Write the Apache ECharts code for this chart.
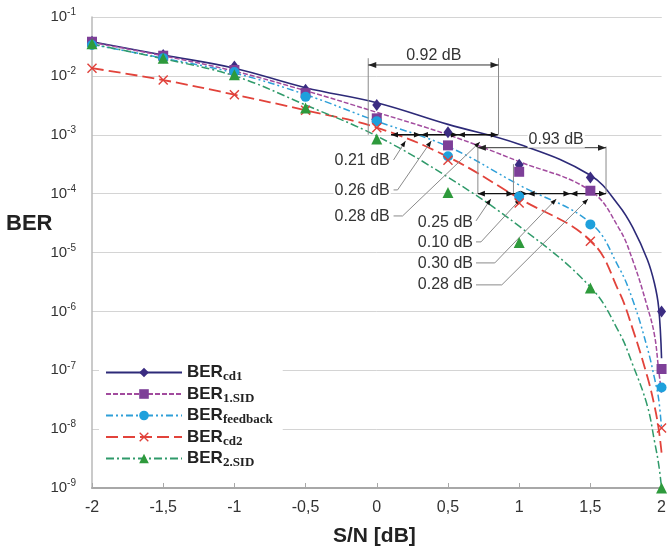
<!DOCTYPE html>
<html><head><meta charset="utf-8">
<script src="https://cdn.jsdelivr.net/npm/echarts@6/dist/echarts.min.js"></script>
<style>html,body{margin:0;padding:0;background:#fff}#c{width:669px;height:550px}</style>
</head><body><div id="c"></div>
<script>
// ---- data ----
const xTickLabels = ['-2','-1,5','-1','-0,5','0','0,5','1','1,5','2'];
const seriesNames = ['cd1', '1.SID', 'feedback', 'cd2', '2.SID'];
// simulated points (markers)
const markerX = [-2, -1.5, -1, -0.5, 0, 0.5, 1, 1.5, 2];
const ptsCd1      = [0.038, 0.0226, 0.0144, 0.0058, 0.0032, 0.0011, 0.00031, 0.000187, 1.0e-6];
const pts1SID     = [0.038, 0.022, 0.0126, 0.0051, 0.0019, 0.00066, 0.000235, 0.000112, 1.05e-7];
const ptsFeedback = [0.0335, 0.020, 0.0116, 0.0044, 0.0017, 0.00043, 0.000089, 0.00003, 5.1e-8];
const ptsCd2      = [0.0135, 0.0085, 0.0048, 0.0026, 0.00131, 0.00037, 0.000069, 0.0000155, 1.05e-8];
const pts2SID     = [0.035, 0.020, 0.0104, 0.00285, 0.00085, 0.000105, 0.0000148, 2.5e-6, 1e-9];
// fitted curves
const curveX        = [-2, -1.5, -1, -0.5, 0, 0.5, 1, 1.5, 1.7, 1.8, 1.9, 1.95, 1.98, 2];
const curveCd1      = [0.038, 0.0226, 0.0135, 0.0063, 0.0035, 0.0015, 6.9e-4, 2.05e-4, 6.3e-5, 2.6e-5, 7.6e-6, 3.0e-6, 1.15e-6, 1.6e-7];
const curve1SID     = [0.037, 0.0219, 0.012, 0.0056, 0.0024, 0.001, 3.5e-4, 1.12e-4, 2.6e-5, 7.1e-6, 1.2e-6, 4.0e-7, 1.0e-7, 4e-8];
const curveFeedback = [0.034, 0.020, 0.0112, 0.0048, 0.0017, 6.3e-4, 1.4e-4, 3.2e-5, 5.6e-6, 1.5e-6, 2.4e-7, 7.4e-8, 3.2e-8, 1e-8];
const curveCd2      = [0.0135, 0.0085, 0.0048, 0.0026, 0.00132, 4.2e-4, 8.3e-5, 1.6e-5, 2.2e-6, 4.8e-7, 7.8e-8, 2.5e-8, 1e-8, 4e-9];
const curve2SID     = [0.0347, 0.0195, 0.01, 0.0032, 9.5e-4, 1.9e-4, 2.8e-5, 2.6e-6, 4.5e-7, 1.2e-7, 2.5e-8, 6.3e-9, 2.5e-9, 1e-9];
// annotations (data coordinates: S/N in dB, BER)
const dimTexts = ['0.92 dB', '0.93 dB'];
const dimX1 = [-0.06, 0.71];
const dimX2 = [0.855, 1.61];
const dimY = [Math.pow(10, -1.815), Math.pow(10, -3.22)];
const dimTextX = [0.40, 1.26];
const dimTextY = [Math.pow(10, -1.66), Math.pow(10, -3.085)];
const extX = [-0.06, 0.855, 0.71, 1.61, 0.96];
const extYFrom = [1e-3, 1e-3, 1e-4, 1e-4, 1e-4];
const extYTo = [Math.pow(10, -1.70), Math.pow(10, -1.70), Math.pow(10, -3.20), Math.pow(10, -3.20), Math.pow(10, -3.50)];
const chainY = [1e-3, 1e-4];
const chainBounds = [[0.10, 0.31, 0.57, 0.85], [0.71, 0.96, 1.06, 1.36, 1.61]];
const segTexts = [['0.21 dB', '0.26 dB', '0.28 dB'], ['0.25 dB', '0.10 dB', '0.30 dB', '0.28 dB']];
const segTextRightX = [0.098, 0.683];
const segTextY = [[Math.pow(10,-3.445), Math.pow(10,-3.946), Math.pow(10,-4.387)],
                  [Math.pow(10,-4.497), Math.pow(10,-4.832), Math.pow(10,-5.182), Math.pow(10,-5.55)]];
const leaderPts = [
  [[[0.118, -3.428], [0.202, -3.105]],
   [[0.118, -3.937], [0.146, -3.937], [0.383, -3.105]],
   [[0.118, -4.379], [0.181, -4.379], [0.725, -3.122]]],
  [[[0.697, -4.463], [0.801, -4.09]],
   [[0.697, -4.82], [0.732, -4.82], [1.010, -4.09]],
   [[0.697, -5.177], [0.829, -5.177], [1.261, -4.09]],
   [[0.697, -5.55], [0.878, -5.55], [1.484, -4.09]]]
];

// ---- styles ----
const X_SHAPE = 'path://M0,1L1,0L5,4L9,0L10,1L6,5L10,9L9,10L5,6L1,10L0,9L4,5Z';
const styles = [
  {line:'#2D2A78', mark:'#3B2C82', dash:'solid', width:1.6, symbol:'diamond', size:[9,12]},
  {line:'#A24B9E', mark:'#7D3F98', dash:[5,2], width:1.5, symbol:'rect', size:10},
  {line:'#2E9FD8', mark:'#1EA0DC', dash:[7,3,2,3,2,3], width:1.5, symbol:'circle', size:10},
  {line:'#E2433B', mark:'#E0403A', dash:[12,5], width:1.8, symbol:X_SHAPE, size:10},
  {line:'#2F9A6A', mark:'#2E9A3C', dash:[8,3,2,3], width:1.5, symbol:'triangle', size:11}
];
const curves = [curveCd1, curve1SID, curveFeedback, curveCd2, curve2SID];
const points = [ptsCd1, pts1SID, ptsFeedback, ptsCd2, pts2SID];

const series = [];
seriesNames.forEach((n, i) => {
  const st = styles[i];
  series.push({
    name: n, type: 'line', z: 2,
    data: curveX.map((x, k) => [x, curves[i][k]]),
    smooth: 0.4, showSymbol: false,
    symbol: st.symbol, symbolSize: st.size,
    itemStyle: {color: st.mark},
    lineStyle: {color: st.line, width: st.width, type: st.dash},
    clip: false, silent: true
  });
});
seriesNames.forEach((n, i) => {
  const st = styles[i];
  series.push({
    name: 'pts_' + n, type: 'scatter', z: 5,
    data: markerX.map((x, k) => [x, points[i][k]]),
    symbol: st.symbol, symbolSize: st.size,
    itemStyle: {color: st.mark, opacity: 1},
    clip: false, silent: true
  });
});

function renderAnno(params, api) {
  const ch = [];
  const P = (x, y) => api.coord([x, y]);
  const line = (pts, color, w) => ch.push({type:'polyline', shape:{points: pts}, style:{stroke: color, lineWidth: w, fill: null}});
  const arrow = (tip, from, len, hw, color) => {
    const dx = tip[0]-from[0], dy = tip[1]-from[1];
    const d = Math.hypot(dx, dy) || 1; const ux = dx/d, uy = dy/d;
    const bx = tip[0]-ux*len, by = tip[1]-uy*len;
    ch.push({type:'polygon', shape:{points:[tip, [bx-uy*hw, by+ux*hw], [bx+uy*hw, by-ux*hw]]}, style:{fill: color}});
  };
  const text = (s, x, y, align) => ch.push({type:'text', style:{text: s, x: x, y: y, align: align, verticalAlign:'middle',
      font: '16px "Liberation Sans", Arial, sans-serif', fill: '#333', backgroundColor: '#fff', padding: [0, 1, 0, 1]}});
  extX.forEach((x, i) => line([P(x, extYFrom[i]), P(x, extYTo[i])], '#8a8a8a', 1));
  dimTexts.forEach((t, i) => {
    const a = P(dimX1[i], dimY[i]), b = P(dimX2[i], dimY[i]);
    line([a, b], '#333', 1);
    arrow(a, b, 8, 3, '#222'); arrow(b, a, 8, 3, '#222');
    const tp = P(dimTextX[i], dimTextY[i]);
    text(t, tp[0], tp[1], 'center');
  });
  chainBounds.forEach((bs, j) => {
    const y = chainY[j];
    line([P(bs[0], y), P(bs[bs.length-1], y)], '#111', 1.3);
    for (let k = 0; k < bs.length-1; k++) {
      const a = P(bs[k], y), b = P(bs[k+1], y);
      arrow(a, b, 7, 2.8, '#111'); arrow(b, a, 7, 2.8, '#111');
    }
  });
  leaderPts.forEach(group => group.forEach(pl => {
    const pts = pl.map(p => P(p[0], Math.pow(10, p[1])));
    line(pts, '#8a8a8a', 1);
    arrow(pts[pts.length-1], pts[pts.length-2], 6, 2.3, '#111');
  }));
  segTexts.forEach((ts, j) => ts.forEach((t, k) => {
    const p = P(segTextRightX[j], segTextY[j][k]);
    text(t, p[0], p[1], 'right');
  }));
  return {type:'group', children: ch};
}
series.push({type:'custom', name:'anno', z: 4, coordinateSystem:'cartesian2d', data:[[0, 1e-3]], renderItem: renderAnno, clip:false, silent:true});

const chart = echarts.init(document.getElementById('c'));
chart.setOption({
  animation: false,
  backgroundColor: '#fff',
  grid: {left: 92, right: 4, top: 17, bottom: 62, containLabel: false},
  xAxis: {
    type: 'value', min: -2, max: 2, interval: 0.5,
    axisLine: {onZero: false, lineStyle: {color: '#a8a8a8', width: 2}},
    axisTick: {inside: true, length: 5, lineStyle: {color: '#a8a8a8'}},
    splitLine: {show: false},
    axisLabel: {margin: 12, color: '#333', fontSize: 16, fontFamily: 'Liberation Sans',
      formatter: v => xTickLabels[Math.round((v + 2) / 0.5)]}
  },
  yAxis: {
    type: 'log', logBase: 10, min: 1e-9, max: 1e-1, splitNumber: 8,
    axisLine: {show: true, onZero: false, lineStyle: {color: '#b8b8b8', width: 1.5}},
    axisTick: {show: false},
    splitLine: {show: true, lineStyle: {color: '#d4d4d4', width: 1}},
    axisLabel: {margin: 16, color: '#333',
      formatter: v => '{b|10}{s|' + Math.round(Math.log10(v)) + '}',
      rich: {b: {fontSize: 15, fontFamily: 'Liberation Sans', color: '#333'},
             s: {fontSize: 10, fontFamily: 'Liberation Sans', color: '#333', padding: [0, 0, 9, 0]}}}
  },
  legend: {
    data: seriesNames, orient: 'vertical', left: 99, top: 359,
    itemWidth: 76, itemHeight: 12, itemGap: 2, padding: [5, 10, 5, 6],
    backgroundColor: '#fff', selectedMode: false,
    formatter: n => '{b|BER}{s|' + n + '}',
    textStyle: {rich: {
      b: {fontSize: 17, fontWeight: 'bold', fontFamily: 'Liberation Sans', color: '#222'},
      s: {fontSize: 13, fontWeight: 'bold', fontFamily: 'Liberation Serif', color: '#222', padding: [9, 0, 0, 0]}}}
  },
  graphic: [
    {type: 'text', left: 6, top: 213, style: {text: 'BER', font: 'bold 22px "Liberation Sans", Arial, sans-serif', fill: '#222'}},
    {type: 'text', left: 333, top: 526, style: {text: 'S/N [dB]', font: 'bold 21px "Liberation Sans", Arial, sans-serif', fill: '#222'}}
  ],
  series: series
});
</script>
</body></html>
